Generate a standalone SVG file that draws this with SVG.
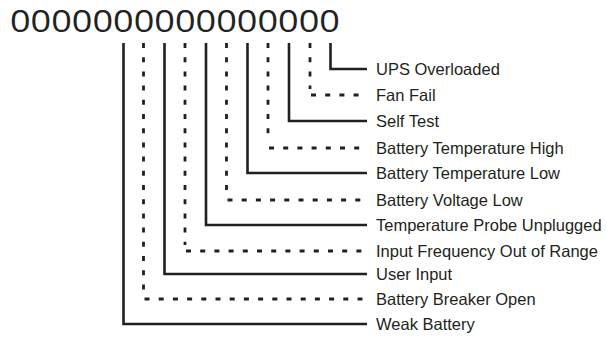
<svg xmlns="http://www.w3.org/2000/svg" width="606" height="337" viewBox="0 0 606 337">
<style>
.bg{fill:#fff}
.code{font-family:"Open Sans","Noto Sans",sans-serif;font-size:30.5px;fill:#222}
.lbl{font-family:"Liberation Sans",Arial,sans-serif;font-size:16.5px;fill:#231f20}
.s{fill:none;stroke:#231f20;stroke-width:2.6}
.d{fill:none;stroke:#231f20;stroke-width:2.8;stroke-dasharray:5 9.2}
</style>
<rect class="bg" width="606" height="337"/>
<g id="code"><text class="code" x="10" y="31.5" textLength="330" lengthAdjust="spacingAndGlyphs">0000000000000000</text></g>
<g id="connectors">
<path class="s" d="M330.5 43V69H367"/>
<path class="d" d="M310 43V89"/><path class="d" d="M311 95H367"/>
<path class="s" d="M289 43V121H367"/>
<path class="d" d="M268 43V142"/><path class="d" d="M269 148H367"/>
<path class="s" d="M247.5 43V173H367"/>
<path class="d" d="M226.5 43V194"/><path class="d" d="M227.5 200H367"/>
<path class="s" d="M206 43V225H367"/>
<path class="d" d="M185 43V245"/><path class="d" d="M186 251H367"/>
<path class="s" d="M164.5 43V274H367"/>
<path class="d" d="M143.5 43V293"/><path class="d" d="M144.5 299H367"/>
<path class="s" d="M123.5 43V324H367"/>
</g>
<g id="n1"><text class="lbl" x="376" y="74.5">UPS Overloaded</text></g>
<g id="n2"><text class="lbl" x="376" y="100.5">Fan Fail</text></g>
<g id="n3"><text class="lbl" x="376" y="126.5">Self Test</text></g>
<g id="n4"><text class="lbl" x="376" y="153.5">Battery Temperature High</text></g>
<g id="n5"><text class="lbl" x="376" y="178.5">Battery Temperature Low</text></g>
<g id="n6"><text class="lbl" x="376" y="205.5">Battery Voltage Low</text></g>
<g id="n7"><text class="lbl" x="376" y="230.5">Temperature Probe Unplugged</text></g>
<g id="n8"><text class="lbl" x="376" y="256.5">Input Frequency Out of Range</text></g>
<g id="n9"><text class="lbl" x="376" y="279.5">User Input</text></g>
<g id="n10"><text class="lbl" x="376" y="304.5">Battery Breaker Open</text></g>
<g id="n11"><text class="lbl" x="376" y="329.5">Weak Battery</text></g>
</svg>
